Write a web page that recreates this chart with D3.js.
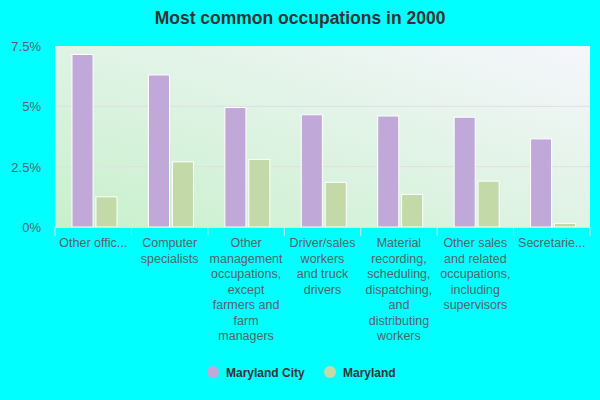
<!DOCTYPE html>
<html>
<head>
<meta charset="utf-8">
<script src="https://cdn.jsdelivr.net/npm/d3@7"></script>
<style>
  body { margin: 0; background: #00ffff; }
  svg { font-family: Arial, "Liberation Sans", sans-serif; }
</style>
</head>
<body>
<div id="chart"></div>
<script>
// Données du graphique
const categories = [
  ["Other offic..."],
  ["Computer", "specialists"],
  ["Other", "management", "occupations,", "except", "farmers and", "farm", "managers"],
  ["Driver/sales", "workers", "and truck", "drivers"],
  ["Material", "recording,", "scheduling,", "dispatching,", "and", "distributing", "workers"],
  ["Other sales", "and related", "occupations,", "including", "supervisors"],
  ["Secretarie..."]
];
const seriesNames = ["Maryland City", "Maryland"];
const marylandCity = [7.15, 6.3, 4.95, 4.65, 4.6, 4.55, 3.65];
const maryland = [1.25, 2.7, 2.8, 1.85, 1.35, 1.9, 0.15];
const yTicks = [0, 2.5, 5, 7.5];
const colors = ["#c0a8d8", "#c4d9a8"];

const width = 600, height = 400;
const margin = { top: 46, right: 10, bottom: 173, left: 55 };
const innerW = width - margin.left - margin.right;
const innerH = height - margin.top - margin.bottom;

const svg = d3.select('#chart').append('svg')
  .attr('width', width).attr('height', height);

// dégradé du fond
const defs = svg.append('defs');
const grad = defs.append('linearGradient').attr('id', 'bg')
  .attr('x1', '0%').attr('y1', '100%').attr('x2', '100%').attr('y2', '0%');
grad.append('stop').attr('offset', '0%').attr('stop-color', '#c8f0cc');
grad.append('stop').attr('offset', '100%').attr('stop-color', '#f6f6fc');

svg.append('text')
  .attr('x', width / 2).attr('y', 24)
  .attr('text-anchor', 'middle')
  .style('font-size', '17.5px').style('font-weight', 'bold').style('fill', '#333')
  .text('Most common occupations in 2000');

const g = svg.append('g').attr('transform', `translate(${margin.left},${margin.top})`);

g.append('rect').attr('width', innerW).attr('height', innerH).attr('fill', 'url(#bg)');

const x = d3.scaleBand().domain(d3.range(categories.length)).range([0, innerW]);
const y = d3.scaleLinear().domain([0, 7.5]).range([innerH, 0]);

// grille
g.selectAll('.grid').data(yTicks.slice(1, 3)).join('line')
  .attr('x1', 0).attr('x2', innerW)
  .attr('y1', d => y(d)).attr('y2', d => y(d))
  .attr('stroke', '#e4dde4').attr('stroke-width', 1);

// axe Y
g.selectAll('.ytick').data(yTicks).join('text')
  .attr('x', -14).attr('y', d => y(d) + 5)
  .attr('text-anchor', 'end')
  .style('font-size', '13px').style('fill', '#5a6068')
  .text(d => d + '%');

// barres
const sub = d3.scaleBand().domain([0, 1]).range([17, 62]).paddingInner(0.12);
[marylandCity, maryland].forEach((vals, s) => {
  g.selectAll('.bar' + s).data(vals).join('rect')
    .attr('x', (d, i) => x(i) + sub(s))
    .attr('y', d => y(d))
    .attr('width', sub.bandwidth())
    .attr('height', d => innerH - y(d))
    .attr('fill', colors[s])
    .attr('stroke', '#fff').attr('stroke-width', 1);
});

// axe X
g.append('line').attr('x1', 0).attr('x2', innerW)
  .attr('y1', innerH + 0.5).attr('y2', innerH + 0.5)
  .attr('stroke', '#dde').attr('stroke-width', 1);
g.selectAll('.xtick').data(d3.range(categories.length + 1)).join('line')
  .attr('x1', d => d * x.bandwidth()).attr('x2', d => d * x.bandwidth())
  .attr('y1', innerH).attr('y2', innerH + 9)
  .attr('stroke', '#dde');

const labels = g.selectAll('.xlab').data(categories).join('text')
  .attr('text-anchor', 'middle')
  .style('font-size', '12.5px').style('fill', '#5a6068');
labels.each(function(lines, i) {
  d3.select(this).selectAll('tspan').data(lines).join('tspan')
    .attr('x', x(i) + x.bandwidth() / 2)
    .attr('y', (d, j) => innerH + 20 + j * 15.5)
    .text(d => d);
});

// légende
const legend = svg.append('g').attr('transform', 'translate(0,372)');
const lx = [213, 330];
seriesNames.forEach((name, i) => {
  legend.append('circle').attr('cx', lx[i]).attr('cy', 0).attr('r', 6).attr('fill', colors[i]);
  legend.append('text').attr('x', lx[i] + 13).attr('y', 4.5)
    .style('font-size', '12px').style('font-weight', 'bold').style('fill', '#333')
    .text(name);
});
</script>
</body>
</html>
